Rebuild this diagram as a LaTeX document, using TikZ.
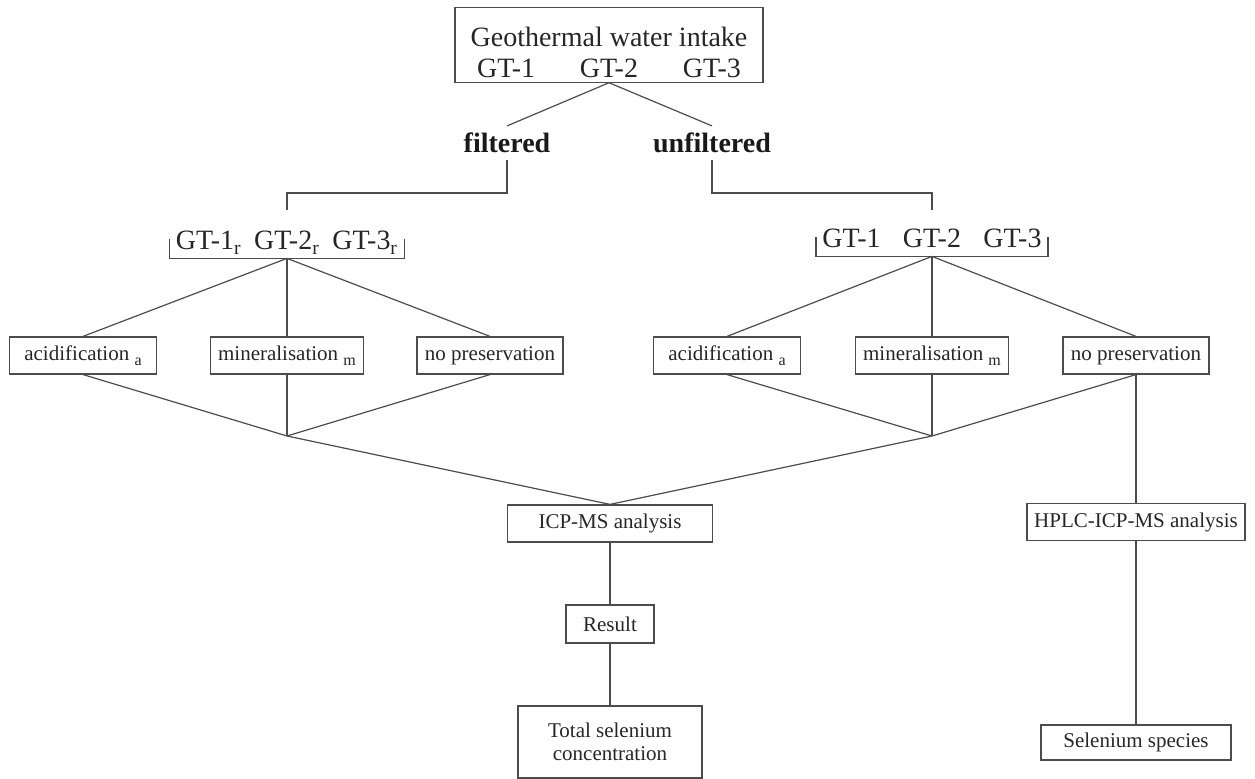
\documentclass[tikz,border=0pt]{standalone}
\usepackage{fontspec}
\setmainfont{Liberation Serif}
\usetikzlibrary{calc}

\newcommand{\lowsub}[1]{\raisebox{-0.55ex}{\footnotesize #1}}

\begin{document}
\begin{tikzpicture}[
    x=0.5pt, y=-0.5pt,
    box/.style={rectangle, draw=black!70, line width=0.6pt, text=black!85, inner sep=2pt},
    prep/.style={box, minimum height=18.5pt, font=\fontsize{10.5}{12}\selectfont},
    res/.style={box, align=center, font=\fontsize{10.5}{11.5}\selectfont},
    big/.style={text=black!85, font=\fontsize{14}{15.5}\selectfont},
    bold/.style={text=black!90, font=\fontsize{14}{15.5}\selectfont\bfseries},
    group/.style={big, inner xsep=3pt, inner ysep=1pt, text height=10pt, text depth=3pt},
    link/.style={draw=black!70, line width=0.6pt}
]
\useasboundingbox (0,0) rectangle (1255,779);

% Intake
\node[box, big, align=center, minimum width=154pt] (intake) at (609,45)
    {\rule{0pt}{17.5pt}Geothermal water intake\\GT-1\hspace{1.6em}GT-2\hspace{1.6em}GT-3};

% Filtered / unfiltered
\node[bold] (filt) at (507,143) {filtered};
\node[bold] (unfilt) at (712,143) {unfiltered};
\draw[link] (filt.north) -- (intake.south) -- (unfilt.north);

% Sample groups
\node[group] (gtf) at (287,243) {GT-1\textsubscript{r}\hspace{0.45em}GT-2\textsubscript{r}\hspace{0.45em}GT-3\textsubscript{r}};
\node[group] (gtu) at (932,241) {GT-1\hspace{0.8em}GT-2\hspace{0.8em}GT-3};
\coordinate (fbend) at (287,193);
\coordinate (ubend) at (932,193);
\coordinate (ftop) at (287,210);
\coordinate (utop) at (932,210);
\draw[link] (filt.south) |- (fbend) -- (ftop);
\draw[link] (unfilt.south) |- (ubend) -- (utop);
\draw[link] ($(gtf.south west)+(0,-19)$) -- (gtf.south west) -- (gtf.south east) -- ++(0,-19);
\draw[link] ($(gtu.south west)+(0,-19)$) -- (gtu.south west) -- (gtu.south east) -- ++(0,-19);

% Preservation
\node[prep, minimum width=73.5pt] (acid1) at (83,355.5) {acidification \lowsub{a}};
\node[prep, minimum width=76.5pt] (mine1) at (287,355.5) {mineralisation \lowsub{m}};
\node[prep, minimum width=73pt] (nopres1) at (490,355.5) {no preservation};
\node[prep, minimum width=73.5pt] (acid2) at (727,355.5) {acidification \lowsub{a}};
\node[prep, minimum width=76.5pt] (mine2) at (932,355.5) {mineralisation \lowsub{m}};
\node[prep, minimum width=73pt] (nopres2) at (1136,355.5) {no preservation};
\coordinate (j1) at (287,436);
\coordinate (j2) at (932,436);
\foreach \n in {acid1,mine1,nopres1}
    \draw[link] (gtf.south) -- (\n.north) (\n.south) -- (j1);
\foreach \n in {acid2,mine2,nopres2}
    \draw[link] (gtu.south) -- (\n.north) (\n.south) -- (j2);

% Analysis
\node[prep, minimum width=102.5pt] (icp) at (610,523.5) {ICP-MS analysis};
\node[prep, minimum width=109pt] (hplc) at (1136,522) {HPLC-ICP-MS analysis};
\draw[link] (j1) -- (icp.north) -- (j2);
\draw[link] (nopres2.south) -- (hplc.north);

% Results
\node[res, minimum width=44pt, minimum height=19pt] (result) at (610,624) {Result};
\node[res, minimum width=92pt, minimum height=36pt] (total) at (610,742) {Total selenium\\concentration};
\node[res, minimum width=95pt, minimum height=17.5pt] (species) at (1136,742.5) {Selenium species};
\draw[link] (icp.south) -- (result.north);
\draw[link] (result.south) -- (total.north);
\draw[link] (hplc.south) -- (species.north);

\end{tikzpicture}
\end{document}
